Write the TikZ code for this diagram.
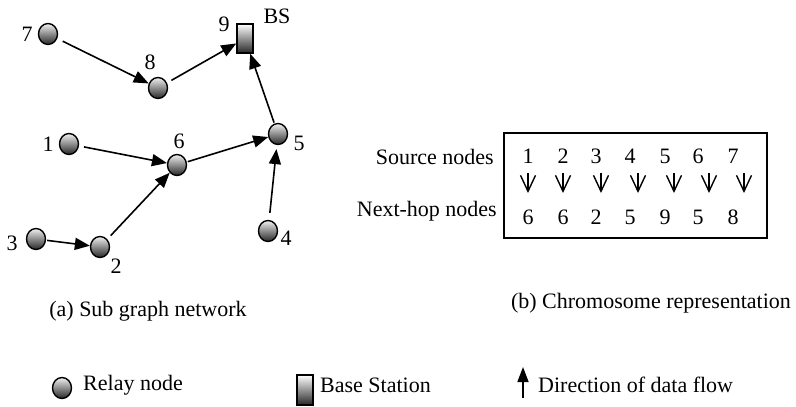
\documentclass[tikz,border=0pt]{standalone}
\usepackage{fontspec}
\setmainfont{Liberation Serif}
\usetikzlibrary{shapes.geometric,arrows.meta}
\tikzset{
  relay/.style={ellipse, draw, line width=1.4pt, minimum width=19pt, minimum height=21pt, inner sep=0pt,
    top color=gray!12, bottom color=black!85},
  bsbox/.style={rectangle, draw, line width=1.4pt, minimum width=16pt, minimum height=29pt, inner sep=0pt,
    top color=white, bottom color=black!85},
  lbl/.style={inner sep=0pt},
  flow/.style={-{Triangle[length=15pt,width=12pt]}, line width=1.6pt},
  downarr/.style={-{Straight Barb[length=16pt,width=15pt]}, line width=1.4pt},
  chrom/.style={draw, line width=1.6pt, inner sep=0pt}
}
\begin{document}
\begin{tikzpicture}[x=1pt,y=-1pt,font=\fontsize{22pt}{26pt}\selectfont]
\useasboundingbox (0,0) rectangle (796,407);

% ---------- (a) sub graph network ----------
\node[relay] (n7) at (48,34) {};
\node[relay] (n8) at (158,88) {};
\node[bsbox] (n9) at (245,38.5) {};
\node[relay] (n1) at (69,144) {};
\node[relay] (n6) at (177,165) {};
\node[relay] (n5) at (278,134) {};
\node[relay] (n3) at (36,239) {};
\node[relay] (n2) at (100,247) {};
\node[relay] (n4) at (268,231) {};

\node[lbl] (l7) at (27,34) {7};
\node[lbl] (l8) at (150,62) {8};
\node[lbl] (l9) at (224,24) {9};
\node[lbl] (lbs) at (277,16) {BS};
\node[lbl] (l1) at (48,144) {1};
\node[lbl] (l6) at (179,141) {6};
\node[lbl] (l5) at (299,143) {5};
\node[lbl] (l3) at (12,243) {3};
\node[lbl] (l2) at (116,266) {2};
\node[lbl] (l4) at (286,238) {4};

\draw[flow, shorten <=6pt] (n7) -- (n8);
\draw[flow, shorten <=5pt] (n8) -- (n9);
\draw[flow, shorten <=1pt] (n5) -- (n9);
\draw[flow, shorten <=5pt] (n1) -- (n6);
\draw[flow, shorten <=1pt] (n6) -- (n5);
\draw[flow, shorten <=1pt] (n3) -- (n2);
\draw[flow, shorten <=5pt] (n2) -- (n6);
\draw[flow, shorten <=7pt, shorten >=4pt] (n4) -- (n5);

\node[lbl] (capa) at (148,316) [anchor=base] {(a) Sub graph network};

% ---------- (b) chromosome representation ----------
\node[chrom, minimum width=263pt, minimum height=105pt] (box) at (635.5,185.5) {};
\node[lbl, anchor=base east] (src) at (494,164) {Source nodes};
\node[lbl, anchor=base east] (nxt) at (497,216) {Next-hop nodes};

\foreach \i/\x/\a/\s/\t in {1/528/528/1/6, 2/563/563/2/6, 3/596/601/3/2, 4/630/638/4/5, 5/665/674/5/9, 6/698/709/6/5, 7/733/744/7/8}{
  \node[lbl] (s\i) at (\x,156) {\s};
  \node[lbl] (t\i) at (\x,217) {\t};
  \coordinate (da\i) at (\a,173);
  \coordinate (db\i) at (\a,193);
  \draw[downarr] (da\i) -- (db\i);
}

\node[lbl] (capb) at (651,308) [anchor=base] {(b) Chromosome representation};

% ---------- legend ----------
\node[relay] (lgr) at (62,388) {};
\node[lbl, anchor=base west] (lgrt) at (83,390) {Relay node};
\node[bsbox, minimum height=30pt] (lgb) at (305,390) {};
\node[lbl, anchor=base west] (lgbt) at (320,392) {Base Station};
\coordinate (lga) at (523,398);
\coordinate (lgb2) at (523,367);
\draw[flow, -{Triangle[length=15pt,width=11pt]}] (lga) -- (lgb2);
\node[lbl, anchor=base west] (lgat) at (538,392) {Direction of data flow};
\end{tikzpicture}
\end{document}
